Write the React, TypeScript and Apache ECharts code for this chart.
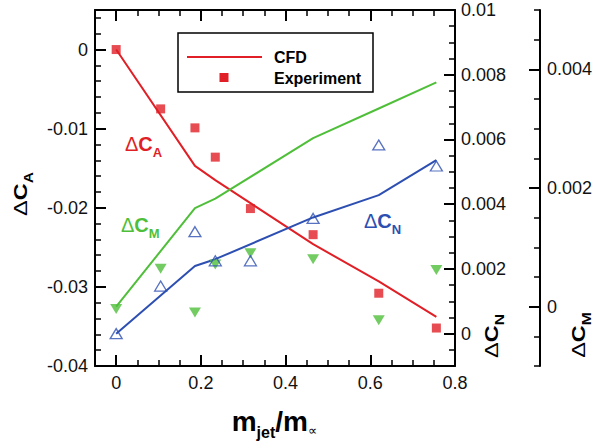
import React, { useEffect, useRef } from 'react';
import * as echarts from 'echarts';

// ---- data ----
const expX = [0, 0.105, 0.186, 0.234, 0.317, 0.465, 0.62, 0.756];
const expCA = [0, -0.0075, -0.0099, -0.0136, -0.0201, -0.0234, -0.0308, -0.0352];
const expCN = [0, 0.00147, 0.00315, 0.00225, 0.00225, 0.00356, 0.00583, 0.00518];
const expCM = [-0.00004, 0.00064, -0.0001, 0.00071, 0.0009, 0.0008, -0.00023, 0.00062];

const cfdX = [0, 0.186, 0.234, 0.465, 0.62, 0.756];
const cfdCA = [0, -0.0147, -0.0165, -0.0246, -0.0293, -0.0338];
const cfdCN = [0, 0.00209, 0.0023, 0.00359, 0.00428, 0.00536];
const cfdCM = [0, 0.00166, 0.00182, 0.00284, 0.00334, 0.00378];

const xTicks = [0, 0.2, 0.4, 0.6, 0.8];
const caTicks = [-0.04, -0.03, -0.02, -0.01, 0];
const cnTicks = [0, 0.002, 0.004, 0.006, 0.008, 0.01];
const cmTicks = [0, 0.002, 0.004];

const RED = '#e01f26';
const GREEN = '#4fbf3a';
const BLUE = '#2d4fb2';
const FONT = 'Arial, "Liberation Sans", sans-serif';

type Seg = { t: string; size: number; weight: string; dy?: number };

let ctx: CanvasRenderingContext2D | null = null;
function measure(s: Seg): number {
  if (!ctx) ctx = document.createElement('canvas').getContext('2d');
  ctx!.font = `${s.weight} ${s.size}px ${FONT}`;
  return ctx!.measureText(s.t).width;
}

// lays segments on a baseline (local y = baseY), starting at startX
function segTexts(segs: Seg[], startX: number, baseY: number, color: string) {
  let x = startX;
  return segs.map((s) => {
    const el = {
      type: 'text',
      x,
      y: baseY + (s.dy || 0) - 0.3465 * s.size,
      silent: true,
      style: {
        text: s.t,
        fill: color,
        fontSize: s.size,
        fontWeight: s.weight,
        fontFamily: FONT,
        align: 'left',
        verticalAlign: 'middle',
      },
    };
    x += measure(s);
    return el;
  });
}

function dcLabel(sub: string, big: number, small: number, dy: number): Seg[] {
  return [
    { t: 'Δ', size: big, weight: 'normal' },
    { t: 'C', size: big, weight: 'bold' },
    { t: sub, size: small, weight: 'bold', dy },
  ];
}

function rotatedTitle(sub: string, cx: number, cy: number) {
  const segs = dcLabel(sub, 18, 12, 6);
  const total = segs.reduce((a, s) => a + measure(s), 0);
  return {
    type: 'group',
    x: cx,
    y: cy,
    rotation: Math.PI / 2,
    scaleX: 1.3,
    silent: true,
    children: segTexts(segs, -total / 2, 0, '#000'),
  };
}

const fmt = (v: number) => String(parseFloat(Number(v).toFixed(4)));
const lineStyle = { color: '#000', width: 2 };
const labelBase = { fontSize: 18, color: '#111', fontFamily: FONT, formatter: fmt };

function xAxes(position: string) {
  return [
    {
      type: 'value', position, min: -0.05, max: 0.8, interval: 0.05,
      axisLine: { show: true, onZero: false, lineStyle },
      axisTick: { show: true, inside: true, length: 6, lineStyle: { color: '#000', width: 1.5 } },
      axisLabel: position === 'bottom'
        ? { show: true, customValues: xTicks, margin: 8, ...labelBase }
        : { show: false },
      splitLine: { show: false },
    },
    {
      type: 'value', position, min: -0.05, max: 0.8,
      axisLine: { show: false, onZero: false },
      axisTick: { show: true, inside: true, length: 11, customValues: xTicks, lineStyle: { color: '#000', width: 2 } },
      axisLabel: { show: false },
      splitLine: { show: false },
    },
  ];
}

function yAxes(position: string, offset: number, min: number, max: number, minorInt: number, majors: number[], margin: number) {
  return [
    {
      type: 'value', position, offset, min, max, interval: minorInt,
      axisLine: { show: true, onZero: false, lineStyle },
      axisTick: { show: true, inside: true, length: 6, lineStyle: { color: '#000', width: 1.5 } },
      axisLabel: { show: true, customValues: majors, margin, ...labelBase },
      splitLine: { show: false },
    },
    {
      type: 'value', position, offset, min, max,
      axisLine: { show: false, onZero: false },
      axisTick: { show: true, inside: true, length: 11, customValues: majors, lineStyle: { color: '#000', width: 2 } },
      axisLabel: { show: false },
      splitLine: { show: false },
    },
  ];
}

export default function App() {
  const ref = useRef<HTMLDivElement>(null);
  useEffect(() => {
    if (!ref.current) return;
    const chart = echarts.init(ref.current, undefined, { renderer: 'svg' });
    const pairs = (xs: number[], ys: number[]) => xs.map((x, i) => [x, ys[i]]);

    const graphic: any[] = [
      // legend box
      { type: 'rect', shape: { x: 178, y: 33, width: 195, height: 59 }, style: { fill: '#fff', stroke: '#000', lineWidth: 1.5 }, z: 10, silent: true },
      { type: 'line', shape: { x1: 187, y1: 57, x2: 262, y2: 57 }, style: { stroke: RED, lineWidth: 2 }, z: 11, silent: true },
      { type: 'rect', shape: { x: 219.5, y: 73, width: 9, height: 9 }, style: { fill: RED }, z: 11, silent: true },
      { type: 'text', x: 274, y: 57, z: 11, silent: true, style: { text: 'CFD', fontSize: 16, fontWeight: 'bold', fontFamily: FONT, fill: '#000', align: 'left', verticalAlign: 'middle' } },
      { type: 'text', x: 274, y: 78, z: 11, silent: true, style: { text: 'Experiment', fontSize: 16, fontWeight: 'bold', fontFamily: FONT, fill: '#000', align: 'left', verticalAlign: 'middle' } },
      // in-plot labels
      ...segTexts(dcLabel('A', 20, 13, 6), 125, 151, RED),
      ...segTexts(dcLabel('M', 20, 13, 6), 121, 232, GREEN),
      ...segTexts(dcLabel('N', 20, 13, 6), 364, 228, BLUE),
      // axis titles
      rotatedTitle('A', 27, 194),
      rotatedTitle('N', 498, 336),
      rotatedTitle('M', 585, 335),
      // x title
      ...segTexts([
        { t: 'm', size: 28, weight: 'bold' },
        { t: 'jet', size: 16, weight: 'bold', dy: 6 },
        { t: '/m', size: 28, weight: 'bold' },
        { t: '∝', size: 13, weight: 'normal', dy: 3 },
      ], 231.7, 431.7, '#000'),
    ];

    chart.setOption({
      animation: false,
      backgroundColor: '#fff',
      grid: { left: 95, top: 10, width: 360, height: 356, containLabel: false },
      xAxis: [...xAxes('bottom'), ...xAxes('top')],
      yAxis: [
        ...yAxes('left', 0, -0.04, 0.005, 0.002, caTicks, 7),
        ...yAxes('right', 0, -0.001, 0.01, 0.0005, cnTicks, 6),
        ...yAxes('right', 85, -0.001, 0.005, 0.0005, cmTicks, 7),
      ],
      series: [
        { type: 'line', name: 'CFD ΔCA', xAxisIndex: 0, yAxisIndex: 0, data: pairs(cfdX, cfdCA), symbol: 'none', lineStyle: { color: RED, width: 2 }, itemStyle: { color: RED }, z: 2 },
        { type: 'line', name: 'CFD ΔCN', xAxisIndex: 0, yAxisIndex: 2, data: pairs(cfdX, cfdCN), symbol: 'none', lineStyle: { color: BLUE, width: 2 }, itemStyle: { color: BLUE }, z: 2 },
        { type: 'line', name: 'CFD ΔCM', xAxisIndex: 0, yAxisIndex: 4, data: pairs(cfdX, cfdCM), symbol: 'none', lineStyle: { color: GREEN, width: 2 }, itemStyle: { color: GREEN }, z: 2 },
        { type: 'scatter', name: 'Experiment ΔCM', xAxisIndex: 0, yAxisIndex: 4, data: pairs(expX, expCM), symbol: 'triangle', symbolRotate: 180, symbolSize: [12, 10], itemStyle: { color: GREEN }, z: 3 },
        { type: 'scatter', name: 'Experiment ΔCN', xAxisIndex: 0, yAxisIndex: 2, data: pairs(expX, expCN), symbol: 'triangle', symbolSize: [12, 10], itemStyle: { color: 'rgba(255,255,255,0)', borderColor: BLUE, borderWidth: 1.3 }, z: 4 },
        { type: 'scatter', name: 'Experiment ΔCA', xAxisIndex: 0, yAxisIndex: 0, data: pairs(expX, expCA), symbol: 'rect', symbolSize: 9, itemStyle: { color: RED }, z: 4 },
      ],
      graphic,
    });
    return () => chart.dispose();
  }, []);
  return <div ref={ref} style={{ position: 'fixed', left: 0, top: 0, width: 599, height: 443, background: '#fff' }} />;
}
